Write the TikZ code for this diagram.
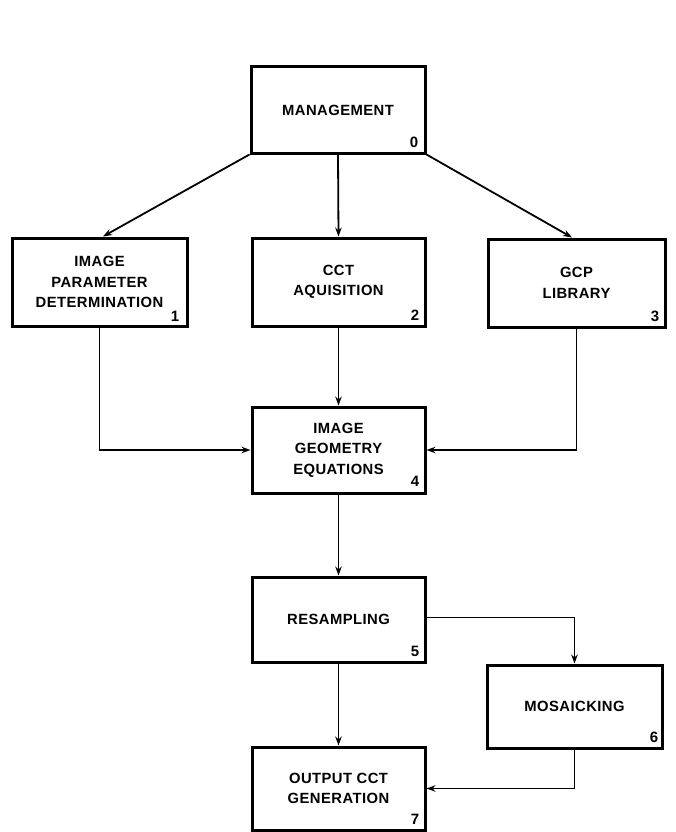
\documentclass[tikz,border=0pt]{standalone}
\usepackage{fontspec}
\setmainfont{Liberation Sans}
\newfontfamily\lblfont[LetterSpace=3]{Liberation Sans}
\usetikzlibrary{arrows.meta}
\tikzset{
  box/.style={draw=black, line width=3pt, rectangle, inner sep=0pt, align=center,
    font=\lblfont\bfseries\fontsize{14.8}{20.5}\selectfont},
  num/.style={inner sep=0pt, font=\lblfont\bfseries\fontsize{15}{16}\selectfont, anchor=south east},
  arr/.style={line width=1.8pt, -{Stealth[length=9pt,width=6.5pt]}},
}
\begin{document}
\begin{tikzpicture}[x=1pt,y=-1pt]
\useasboundingbox (0,0) rectangle (675,832);
\node[box, minimum width=174pt, minimum height=86pt] (m)  at (338,110)   {MANAGEMENT};
\node[box, minimum width=175pt, minimum height=88pt] (b1) at (99.5,282)  {IMAGE\\PARAMETER\\DETERMINATION};
\node[box, minimum width=173pt, minimum height=88pt] (b2) at (338.5,282) {CCT\\AQUISITION};
\node[box, minimum width=177pt, minimum height=88pt] (b3) at (576.5,283) {GCP\\LIBRARY};
\node[box, minimum width=173pt, minimum height=86pt] (b4) at (338.5,450) {IMAGE\\GEOMETRY\\EQUATIONS};
\node[box, minimum width=173pt, minimum height=85pt] (b5) at (338.5,619.5) {RESAMPLING};
\node[box, minimum width=175pt, minimum height=83pt] (b6) at (574.5,706.5) {MOSAICKING};
\node[box, minimum width=173pt, minimum height=83pt] (b7) at (338.5,788.5) {OUTPUT CCT\\GENERATION};

\node[num] (n0) at ([xshift=-8pt,yshift=7pt]m.south east) {0};
\node[num] (n1) at ([xshift=-9pt,yshift=6pt]b1.south east) {1};
\node[num] (n2) at ([xshift=-7pt,yshift=7pt]b2.south east) {2};
\node[num] (n3) at ([xshift=-7pt,yshift=7pt]b3.south east) {3};
\node[num] (n4) at ([xshift=-7pt,yshift=8pt]b4.south east) {4};
\node[num] (n5) at ([xshift=-7pt,yshift=7pt]b5.south east) {5};
\node[num] (n6) at ([xshift=-5pt,yshift=7pt]b6.south east) {6};
\node[num] (n7) at ([xshift=-7pt,yshift=7pt]b7.south east) {7};

\draw[arr] (m.south west) -- ([xshift=3.5pt]b1.north);
\draw[arr] (m.south) -- (b2.north);
\draw[arr] (m.south east) -- ([xshift=-4.5pt]b3.north);
\draw[arr] (b1.south) |- (b4.west);
\draw[arr] (b2.south) -- (b4.north);
\draw[arr] (b3.south) |- (b4.east);
\draw[arr] (b4.south) -- (b5.north);
\draw[arr] ([yshift=2pt]b5.east) -| (b6.north);
\draw[arr] (b5.south) -- (b7.north);
\draw[arr] (b6.south) |- (b7.east);
\end{tikzpicture}
\end{document}
